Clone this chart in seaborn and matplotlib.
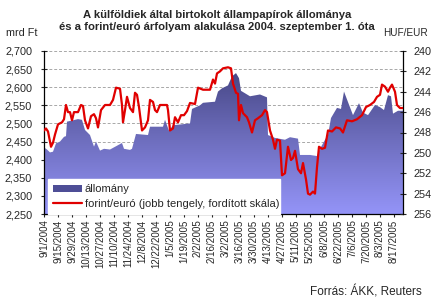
import numpy as np
import pandas as pd
import matplotlib
matplotlib.use('Agg')
import matplotlib.pyplot as plt
import matplotlib.dates as mdates
from matplotlib.colors import LinearSegmentedColormap
from matplotlib.patches import Patch
from matplotlib.lines import Line2D
import seaborn as sns

# ---------------- data ----------------
start_date = '2004-09-01'
end_day = 359

# állomány (mrd Ft), day offsets from 2004-09-01
stock_day = [0, 3, 6, 9, 12, 16, 20, 22, 23, 28, 34, 38, 41, 46, 50, 52, 56, 60, 66,
             78, 80, 86, 88, 92, 104, 106, 119, 121, 125, 129, 146, 148, 156, 159,
             171, 174, 178, 184, 188, 192, 195, 197, 206, 216, 223, 224, 231, 241,
             246, 254, 256, 266, 273, 276, 281, 284, 287, 293, 297, 300, 304, 309,
             315, 319, 324, 331, 336, 340, 344, 347, 349, 354, 359]
stock_val = [2434, 2428, 2420, 2422, 2445, 2450, 2463, 2465, 2505, 2508, 2512, 2510,
             2482, 2468, 2436, 2450, 2425, 2430, 2428, 2446, 2430, 2427, 2430, 2471,
             2468, 2491, 2491, 2510, 2480, 2495, 2500, 2540, 2550, 2557, 2560, 2588,
             2597, 2605, 2630, 2639, 2625, 2590, 2575, 2580, 2572, 2468, 2460, 2455,
             2462, 2458, 2413, 2413, 2410, 2430, 2455, 2468, 2515, 2543, 2540, 2588,
             2559, 2523, 2556, 2530, 2523, 2551, 2545, 2537, 2578, 2575, 2527, 2535,
             2535]

# forint/euró (HUF/EUR), day offsets from 2004-09-01
rate_day = [0, 2, 4, 7, 9, 11, 14, 18, 20, 22, 24, 26, 28, 30, 34, 37, 39, 41, 44,
            47, 50, 52, 54, 57, 61, 66, 69, 72, 76, 78, 79, 81, 83, 86, 89, 91, 93,
            95, 98, 101, 104, 106, 109, 111, 113, 116, 123, 124, 126, 129, 131, 134,
            137, 140, 143, 146, 151, 154, 159, 166, 169, 171, 173, 176, 179, 184,
            187, 189, 192, 194, 195, 197, 199, 203, 205, 208, 211, 214, 218, 221,
            223, 226, 229, 231, 233, 236, 238, 241, 244, 247, 249, 251, 254, 257,
            259, 262, 264, 266, 269, 271, 273, 275, 278, 281, 284, 288, 292, 296,
            299, 303, 308, 313, 318, 322, 326, 330, 333, 336, 338, 341, 344, 346,
            348, 351, 353, 356, 359]
rate_val = [247.8, 247.6, 247.9, 249.4, 249.0, 248.2, 247.2, 247.0, 246.7, 245.3,
            246.0, 246.0, 246.8, 246.0, 246.0, 245.3, 245.4, 246.8, 247.6, 246.4,
            246.2, 246.6, 247.5, 245.8, 245.3, 245.3, 244.8, 243.6, 243.7, 245.3,
            247.0, 245.8, 244.5, 245.6, 246.0, 244.1, 244.3, 245.5, 247.8, 247.5,
            246.8, 244.8, 245.0, 245.8, 246.0, 245.3, 245.3, 245.8, 247.8, 247.6,
            246.5, 247.0, 246.3, 246.3, 245.9, 245.1, 245.2, 243.6, 243.8, 243.8,
            242.8, 243.2, 242.2, 242.0, 241.7, 241.6, 241.7, 243.2, 244.1, 244.2,
            246.8, 245.3, 246.1, 246.5, 247.0, 248.0, 246.8, 246.6, 246.3, 245.8,
            246.0, 247.8, 248.7, 249.6, 248.7, 248.8, 252.2, 252.0, 249.4, 250.7,
            250.5, 249.8, 251.6, 252.0, 251.0, 252.6, 254.0, 254.1, 253.8, 254.0,
            251.4, 249.4, 249.6, 249.5, 247.8, 247.9, 247.5, 247.6, 248.0, 246.8,
            246.9, 246.7, 246.3, 245.5, 245.3, 245.0, 244.5, 244.3, 243.3, 243.5,
            244.0, 243.6, 243.3, 244.0, 245.3, 245.6, 245.6]

tick_labels = ['9/1/2004', '9/15/2004', '9/29/2004', '10/13/2004', '10/27/2004',
               '11/10/2004', '11/24/2004', '12/8/2004', '12/22/2004', '1/5/2005',
               '1/19/2005', '2/2/2005', '2/16/2005', '3/2/2005', '3/16/2005',
               '3/30/2005', '4/13/2005', '4/27/2005', '5/11/2005', '5/25/2005',
               '6/8/2005', '6/22/2005', '7/6/2005', '7/20/2005', '8/3/2005',
               '8/17/2005']

left_ticks = [2250, 2300, 2350, 2400, 2450, 2500, 2550, 2600, 2650, 2700]
right_ticks = [240, 242, 244, 246, 248, 250, 252, 254, 256]

title_text = ('A külföldiek által birtokolt állampapírok állománya\n'
              'és a forint/euró árfolyam alakulása 2004. szeptember 1. óta')
series_names = ['állomány', 'forint/euró (jobb tengely, fordított skála)']

# ---------------- frames ----------------
t0 = pd.Timestamp(start_date)
stock = pd.DataFrame({'date': t0 + pd.to_timedelta(stock_day, unit='D'),
                      'value': stock_val})
rate = pd.DataFrame({'date': t0 + pd.to_timedelta(rate_day, unit='D'),
                     'value': rate_val})

sns.set_theme(style='white')
plt.rcParams['font.family'] = ['Liberation Sans', 'DejaVu Sans']
plt.rcParams['axes.linewidth'] = 0.9

fig = plt.figure(figsize=(4.4, 3.06), dpi=100)
ax = fig.add_axes([44 / 440, 1 - 214 / 306, 359 / 440, 163 / 306])
ax.set_facecolor('white')

x0 = mdates.date2num(t0)
x1 = mdates.date2num(t0 + pd.Timedelta(days=end_day))

# gridlines
ax.set_axisbelow(True)
ax.yaxis.grid(True, color='#a8a8a8', linestyle=(0, (3, 2)), linewidth=0.7)

# gradient area
xs = mdates.date2num(stock['date'])
poly = ax.fill_between(xs, stock['value'], 2250, facecolor='none',
                       edgecolor='none', zorder=2)
cmap = LinearSegmentedColormap.from_list('g', ['#9494f8', '#6a6ab8', '#3c3c76'])
grad = np.linspace(0, 1, 256).reshape(-1, 1)
im = ax.imshow(grad, extent=[x0, x1, 2250, 2700], origin='lower', aspect='auto',
               cmap=cmap, zorder=2, interpolation='bilinear')
im.set_clip_path(poly.get_paths()[0], transform=ax.transData)

ax.set_xlim(x0, x1)
ax.set_ylim(2250, 2700)
ax.set_yticks(left_ticks)
ax.set_yticklabels([f'{v:,}' for v in left_ticks])

tick_pos = mdates.date2num(pd.to_datetime(tick_labels, format='%m/%d/%Y'))
ax.set_xticks(tick_pos)
ax.set_xticklabels(tick_labels, rotation=90, fontsize=7)
ax.tick_params(axis='x', direction='inout', length=4, width=0.8, pad=2,
               bottom=True)
ax.tick_params(axis='y', direction='inout', length=5, width=0.8, pad=6,
               left=True, labelsize=7.8)
for s in ['top', 'right']:
    ax.spines[s].set_visible(False)
for s in ['left', 'bottom']:
    ax.spines[s].set_color('black')

# right axis with rate
ax2 = ax.twinx()
sns.lineplot(data=rate, x='date', y='value', ax=ax2, color='#e00000',
             linewidth=1.6, zorder=3)
ax2.set_xlim(t0, t0 + pd.Timedelta(days=end_day))
ax2.set_ylim(256, 240)
ax2.set_yticks(right_ticks)
ax2.set_yticklabels([str(v) for v in right_ticks])
ax2.set_ylabel('')
ax2.set_xlabel('')
ax.set_xlabel('')
ax2.tick_params(axis='y', direction='inout', length=5, width=0.8, pad=5,
                right=True, labelsize=7.8)
for s in ['top', 'left', 'bottom']:
    ax2.spines[s].set_visible(False)
ax2.spines['right'].set_color('black')

# legend
handles = [Patch(facecolor='#4e4e96', edgecolor='none'),
           Line2D([], [], color='#e00000', linewidth=1.6)]
leg = ax2.legend(handles, series_names, loc='lower left',
                 bbox_to_anchor=(4 / 359, 0.0, 232 / 359, 38 / 163),
                 mode='expand', borderaxespad=0, frameon=True, fancybox=False,
                 framealpha=1, facecolor='white', edgecolor='white',
                 fontsize=8, handlelength=2.6, handleheight=0.6,
                 labelspacing=0.45, borderpad=0.45, handletextpad=0.25)

# texts
fig.text(217 / 440, 1 - 21.5 / 306, title_text, ha='center', va='center',
         fontsize=8.1, fontweight='bold', linespacing=1.25)
fig.text(6 / 440, 1 - 33 / 306, 'mrd Ft', ha='left', va='center', fontsize=7.8)
fig.text(428 / 440, 1 - 33 / 306, 'HUF/EUR', ha='right', va='center',
         fontsize=7.2)
fig.text(422 / 440, 1 - 292 / 306, 'Forrás: ÁKK, Reuters', ha='right',
         va='center', fontsize=8.5)

fig.savefig('out.png', dpi=100)
